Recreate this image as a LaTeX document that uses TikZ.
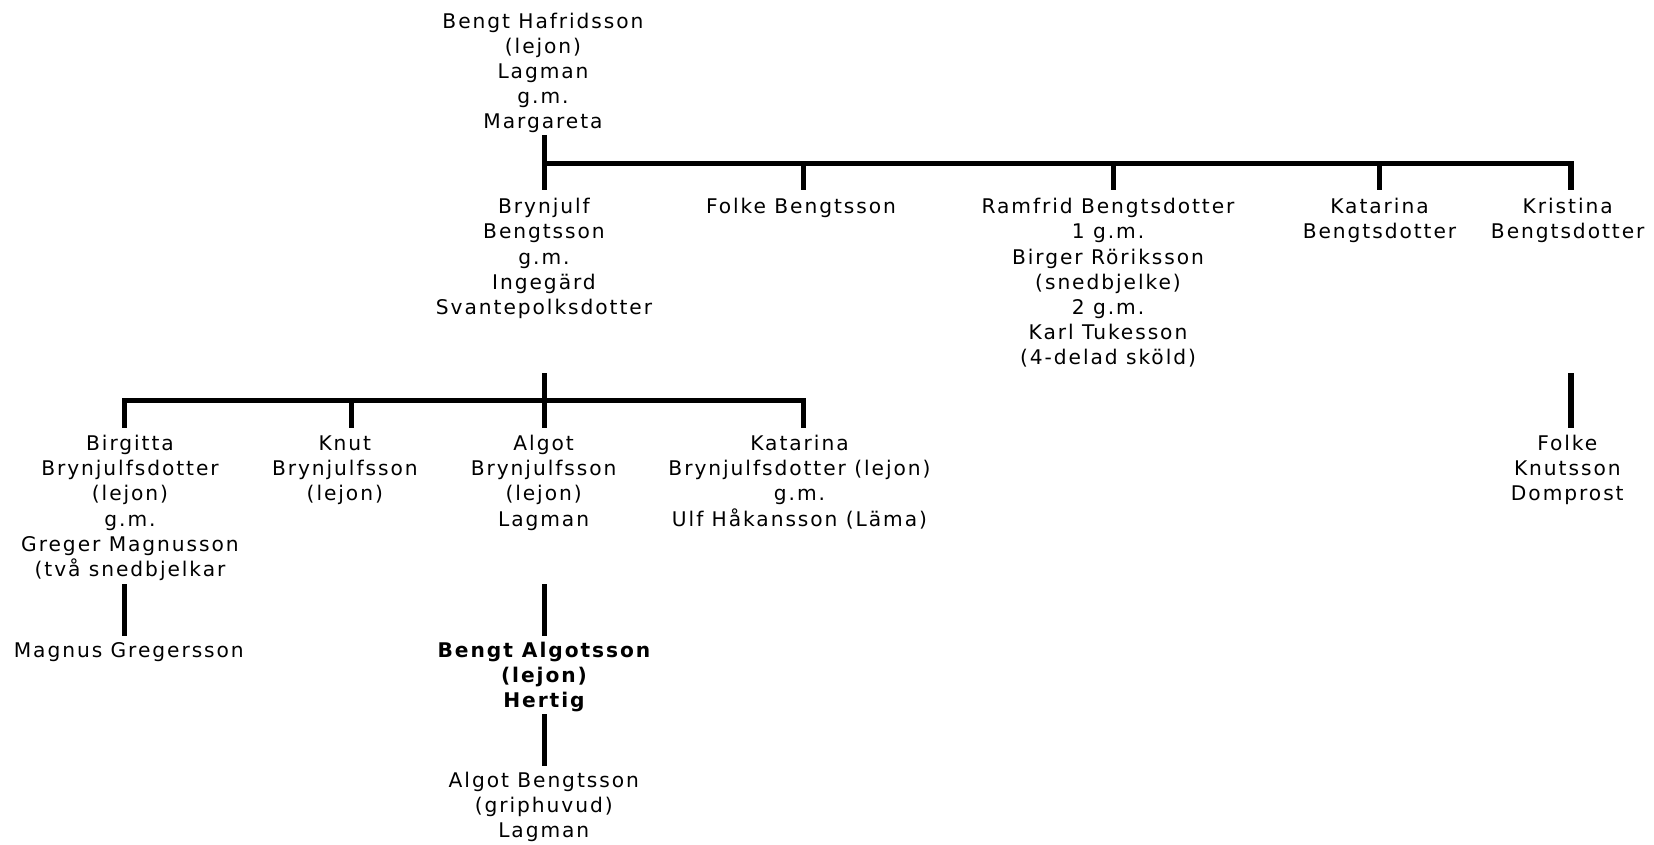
\documentclass[tikz,border=0pt]{standalone}
\usepackage{fontspec}
\newfontfamily\pf{DejaVu Sans}[LetterSpace=9.6]
\newcommand\fl{\rule{0pt}{8pt}}
\begin{document}
\begin{tikzpicture}[x=0.5pt,y=-0.5pt,
  person/.style={font=\pf\fontsize{10.1pt}{12.6pt}\selectfont, align=center, inner sep=0pt, anchor=north, text=black},
  ln/.style={line width=2.6pt, draw=black, line cap=butt},
  barline/.style={ln, line cap=rect}]
\useasboundingbox (0,0) rectangle (1654,845);
% level coordinates
\coordinate (L1a) at (0,135);
\coordinate (B1) at (0,163.5);
\coordinate (L1b) at (0,190.5);
\coordinate (L2a) at (0,373);
\coordinate (B2) at (0,400.7);
\coordinate (L2b) at (0,428.3);
\coordinate (L3a) at (0,584);
\coordinate (L3b) at (0,636);
\coordinate (L4a) at (0,714);
\coordinate (L4b) at (0,765.7);
% nodes
\node[person] (root) at (543,11.7) {\fl Bengt Hafridsson\\(lejon)\\Lagman\\g.m.\\Margareta};
\node[person] (bryn) at (544,197.3) {\fl Brynjulf\\Bengtsson\\g.m.\\Ingegärd\\Svantepolksdotter};
\node[person] (folke) at (801,197.3) {\fl Folke Bengtsson};
\node[person] (ramf) at (1108,197.3) {\fl Ramfrid Bengtsdotter\\1 g.m.\\Birger Röriksson\\(snedbjelke)\\2 g.m.\\Karl Tukesson\\(4-delad sköld)};
\node[person] (katb) at (1379.5,197.3) {\fl Katarina\\Bengtsdotter};
\node[person] (krist) at (1567.7,197.3) {\fl Kristina\\Bengtsdotter};
\node[person] (folkek) at (1567.3,434) {\fl Folke\\Knutsson\\Domprost};
\node[person] (birg) at (130,434) {\fl Birgitta\\Brynjulfsdotter\\(lejon)\\g.m.\\Greger Magnusson\\(två snedbjelkar};
\node[person] (knut) at (344.8,434) {\fl Knut\\Brynjulfsson\\(lejon)};
\node[person] (algot) at (543.6,434) {\fl Algot\\Brynjulfsson\\(lejon)\\Lagman};
\node[person] (katbr) at (799.5,434) {\fl Katarina\\Brynjulfsdotter (lejon)\\g.m.\\Ulf Håkansson (Läma)};
\node[person] (magnus) at (128.8,640.7) {\fl Magnus Gregersson};
\node[person] (bengta) at (544,640.7) {\fl\bfseries Bengt Algotsson\\\bfseries (lejon)\\\bfseries Hertig};
\node[person] (algotb) at (543.8,770.7) {\fl Algot Bengtsson\\(griphuvud)\\Lagman};
% attach points
\path ([xshift=0.75pt]root.south) coordinate (rootX);
\path ([xshift=1.25pt]folke.north) coordinate (folkeX);
\path ([xshift=2.75pt]ramf.north) coordinate (ramfX);
\path ([xshift=0pt]katb.north) coordinate (katbX);
\path ([xshift=1.65pt]krist.north) coordinate (kristX);
\path ([xshift=-2.65pt]birg.north) coordinate (birgX);
\path ([xshift=3.35pt]knut.north) coordinate (knutX);
\path ([xshift=0.35pt]algot.north) coordinate (algotX);
\path ([xshift=2.1pt]katbr.north) coordinate (katbrX);
% generation 1
\draw[ln] (rootX |- L1a) -- (rootX |- L1b);
\draw[barline] (rootX |- B1) -- (kristX |- B1);
\draw[ln] (folkeX |- B1) -- (folkeX |- L1b);
\draw[ln] (ramfX |- B1) -- (ramfX |- L1b);
\draw[ln] (katbX |- B1) -- (katbX |- L1b);
\draw[ln] (kristX |- B1) -- (kristX |- L1b);
% generation 2
\draw[ln] (algotX |- L2a) -- (algotX |- L2b);
\draw[barline] (birgX |- B2) -- (katbrX |- B2);
\draw[ln] (birgX |- B2) -- (birgX |- L2b);
\draw[ln] (knutX |- B2) -- (knutX |- L2b);
\draw[ln] (katbrX |- B2) -- (katbrX |- L2b);
\draw[ln] (kristX |- L2a) -- (kristX |- L2b);
% generation 3
\draw[ln] (birgX |- L3a) -- (birgX |- L3b);
\draw[ln] (algotX |- L3a) -- (algotX |- L3b);
\draw[ln] (algotX |- L4a) -- (algotX |- L4b);
\end{tikzpicture}
\end{document}
